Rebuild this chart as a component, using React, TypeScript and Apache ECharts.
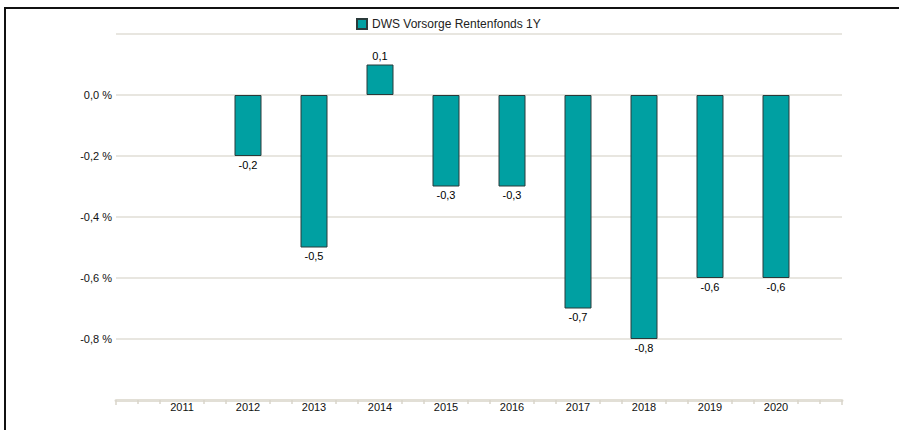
import React, { useEffect, useRef } from "react";
import * as echarts from "echarts";

const seriesName = "DWS Vorsorge Rentenfonds 1Y";
const years = ["2011", "2012", "2013", "2014", "2015", "2016", "2017", "2018", "2019", "2020"];
const values: (number | null)[] = [null, -0.2, -0.5, 0.1, -0.3, -0.3, -0.7, -0.8, -0.6, -0.6];
const yTickLabels = ["0,0 %", "-0,2 %", "-0,4 %", "-0,6 %", "-0,8 %"];

const FONT = "'Liberation Sans', Arial, sans-serif";

function fmtY(v: number): string {
  let s = v.toFixed(1).replace(".", ",");
  if (s === "-0,0") s = "0,0";
  const lbl = s + " %";
  return yTickLabels.indexOf(lbl) >= 0 ? lbl : "";
}

export default function App() {
  const ref = useRef<HTMLDivElement>(null);
  useEffect(() => {
    document.body.style.margin = "0";
    if (!ref.current) return;
    const chart = echarts.init(ref.current, null, { renderer: "svg" });
    const data = years.map((y, i) => {
      const v = values[i];
      return {
        value: [Number(y), v],
        label: {
          position: v !== null && v >= 0 ? "top" : "bottom",
        },
      };
    }).filter((d) => d.value[1] !== null);
    chart.setOption({
      animation: false,
      textStyle: { fontFamily: FONT },
      graphic: [
        {
          type: "rect",
          shape: { x: 5, y: 8, width: 2000, height: 2000 },
          style: { fill: "none", stroke: "#111", lineWidth: 2 },
          silent: true,
        },
      ],
      legend: {
        left: 351,
        top: 13,
        itemWidth: 10,
        itemHeight: 10,
        icon: "rect",
        textStyle: { fontSize: 12, color: "#222", fontFamily: FONT },
        data: [seriesName],
      },
      grid: { left: 116, right: 57, top: 34, bottom: 30 },
      xAxis: {
        type: "value",
        min: 2010,
        max: 2021,
        interval: 1,
        axisLine: { show: true, onZero: false, lineStyle: { color: "#e2dfd6", width: 3 } },
        axisTick: { show: true, customValues: [2010, 2021], length: 5, lineStyle: { color: "#d8d4ca", width: 1.5 } },
        minorTick: { show: true, splitNumber: 3, length: 4, lineStyle: { color: "#d8d4ca", width: 1.5 } },
        splitLine: { show: false },
        axisLabel: {
          color: "#111",
          fontSize: 11,
          margin: 1,
          formatter: (v: number) => (years.indexOf(String(v)) >= 0 ? String(v) : ""),
        },
      },
      yAxis: {
        type: "value",
        min: -1.0,
        max: 0.2,
        interval: 0.2,
        axisLine: { show: false },
        axisTick: { show: false },
        splitLine: { show: true, lineStyle: { color: "#e0ded6", width: 1.5 } },
        axisLabel: {
          color: "#111",
          fontSize: 11,
          margin: 4,
          formatter: (v: number) => fmtY(v),
        },
      },
      series: [
        {
          name: seriesName,
          type: "bar",
          barWidth: 27,
          data,
          itemStyle: { color: "#00a0a2", borderColor: "#2a3a3a", borderWidth: 1 },
          label: {
            show: true,
            distance: 3,
            fontSize: 11,
            color: "#000",
            fontFamily: FONT,
            formatter: (p: any) => String(p.value[1].toFixed(1)).replace(".", ","),
          },
        },
      ],
    });
    return () => chart.dispose();
  }, []);
  return <div ref={ref} style={{ width: 899, height: 430 }} />;
}
